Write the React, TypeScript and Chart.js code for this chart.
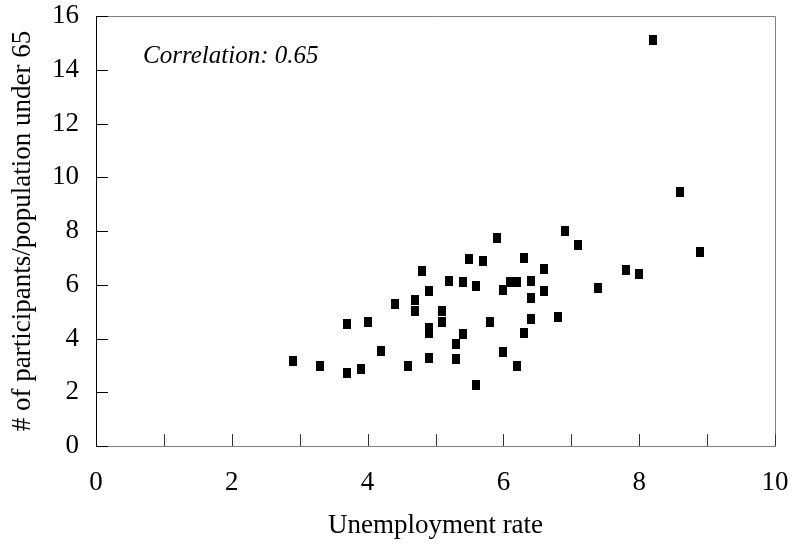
import React, { useEffect, useRef } from "react";
import { Chart, registerables } from "chart.js";

Chart.register(...registerables);

const unemploymentRate: number[] = [
  2.9, 3.3, 3.7, 3.9, 3.7, 4.0, 4.2, 4.4, 4.6, 4.7,
  4.7, 4.8, 4.9, 4.9, 4.9, 4.9, 5.1, 5.1, 5.2, 5.3,
  5.3, 5.4, 5.4, 5.5, 5.6, 5.6, 5.7, 5.8, 5.9, 6.0,
  6.0, 6.1, 6.2, 6.2, 6.3, 6.3, 6.4, 6.4, 6.4, 6.6,
  6.6, 6.8, 6.9, 7.1, 7.4, 7.8, 8.0, 8.9, 8.2, 8.6,
];
const participantsShare: number[] = [
  3.16, 2.98, 2.72, 2.87, 4.55, 4.61, 3.52, 5.30, 2.98, 5.42,
  5.01, 6.50, 5.75, 4.39, 4.19, 3.26, 5.01, 4.61, 6.14, 3.78,
  3.23, 6.09, 4.17, 6.95, 5.94, 2.28, 6.88, 4.61, 7.73, 5.80,
  3.48, 6.10, 6.10, 2.98, 7.00, 4.22, 6.14, 5.50, 4.71, 6.59,
  5.76, 4.81, 7.99, 7.49, 5.89, 6.54, 6.40, 7.22, 15.12, 9.45,
];

const xTitle = "Unemployment rate";
const yTitle = "# of participants/population under 65";
const annotationText = "Correlation: 0.65";
const xMin = 0, xMax = 10, xLabelStep = 2, xMinorStep = 1;
const yMin = 0, yMax = 16, yLabelStep = 2;

const FONT = "'Liberation Serif', 'Times New Roman', serif";

function makeMarker(): HTMLCanvasElement {
  const c = document.createElement("canvas");
  c.width = 8;
  c.height = 10;
  const g = c.getContext("2d")!;
  g.fillStyle = "#000";
  g.fillRect(0, 0, 8, 10);
  return c;
}

const framePlugin = {
  id: "frame",
  afterDraw(chart: any) {
    const { ctx, chartArea, scales } = chart;
    const { left, right, top, bottom } = chartArea;
    ctx.save();
    ctx.lineWidth = 1;
    // grey frame (top, right, bottom)
    ctx.strokeStyle = "#808080";
    ctx.beginPath();
    ctx.moveTo(left, top + 0.5);
    ctx.lineTo(right + 0.5, top + 0.5);
    ctx.lineTo(right + 0.5, bottom + 0.5);
    ctx.lineTo(left, bottom + 0.5);
    ctx.stroke();
    // black left axis
    ctx.strokeStyle = "#000";
    ctx.beginPath();
    ctx.moveTo(left + 0.5, top);
    ctx.lineTo(left + 0.5, bottom + 1);
    ctx.stroke();
    // y ticks (inside)
    for (let v = yMin; v <= yMax; v += yLabelStep) {
      const y = Math.round(scales.y.getPixelForValue(v)) + 0.5;
      ctx.beginPath();
      ctx.moveTo(left, y);
      ctx.lineTo(left + 12, y);
      ctx.stroke();
    }
    // x ticks (inside)
    ctx.strokeStyle = "#333";
    for (let v = xMin + xMinorStep; v <= xMax; v += xMinorStep) {
      const x = Math.round(scales.x.getPixelForValue(v)) + 0.5;
      ctx.beginPath();
      ctx.moveTo(x, bottom);
      ctx.lineTo(x, bottom - 12);
      ctx.stroke();
    }
    // annotation
    ctx.fillStyle = "#000";
    ctx.font = `italic 25px ${FONT}`;
    ctx.textAlign = "left";
    ctx.textBaseline = "alphabetic";
    ctx.fillText(annotationText, left + 47, top + 47);
    ctx.restore();
  },
};

export default function App() {
  const ref = useRef<HTMLCanvasElement | null>(null);

  useEffect(() => {
    document.body.style.margin = "0";
    const canvas = ref.current!;
    const points = unemploymentRate.map((x, i) => ({ x, y: participantsShare[i] }));
    const marker = makeMarker();
    const chart = new Chart(canvas, {
      type: "scatter",
      data: {
        datasets: [
          {
            data: points,
            pointStyle: marker as any,
            backgroundColor: "#000",
            borderColor: "#000",
          },
        ],
      },
      options: {
        responsive: false,
        animation: false,
        events: [],
        layout: { padding: { top: 16, right: 19, left: 0, bottom: 0 } },
        plugins: { legend: { display: false }, tooltip: { enabled: false } },
        scales: {
          x: {
            type: "linear",
            min: xMin,
            max: xMax,
            grid: { display: false, drawTicks: false },
            border: { display: false },
            ticks: {
              stepSize: xLabelStep,
              color: "#000",
              padding: 21,
              maxRotation: 0,
              font: { family: FONT, size: 27 },
            },
            title: {
              display: true,
              text: xTitle,
              color: "#000",
              font: { family: FONT, size: 27 },
              padding: { top: 0, bottom: 5 },
            },
            afterFit(scale: any) {
              scale.height = 101;
              scale.paddingLeft = 0;
              scale.paddingRight = 0;
            },
          },
          y: {
            type: "linear",
            min: yMin,
            max: yMax,
            grid: { display: false, drawTicks: false },
            border: { display: false },
            ticks: {
              stepSize: yLabelStep,
              color: "#000",
              padding: 17,
              font: { family: FONT, size: 27 },
            },
            title: {
              display: true,
              text: yTitle,
              color: "#000",
              font: { family: FONT, size: 27 },
              padding: { top: 7, bottom: 0 },
            },
            afterFit(scale: any) {
              scale.width = 96;
              scale.paddingTop = 0;
              scale.paddingBottom = 0;
            },
          },
        },
      },
      plugins: [framePlugin],
    });
    return () => chart.destroy();
  }, []);

  return (
    <div style={{ width: 794, height: 547, background: "#fff" }}>
      <canvas ref={ref} width={794} height={547} />
    </div>
  );
}
